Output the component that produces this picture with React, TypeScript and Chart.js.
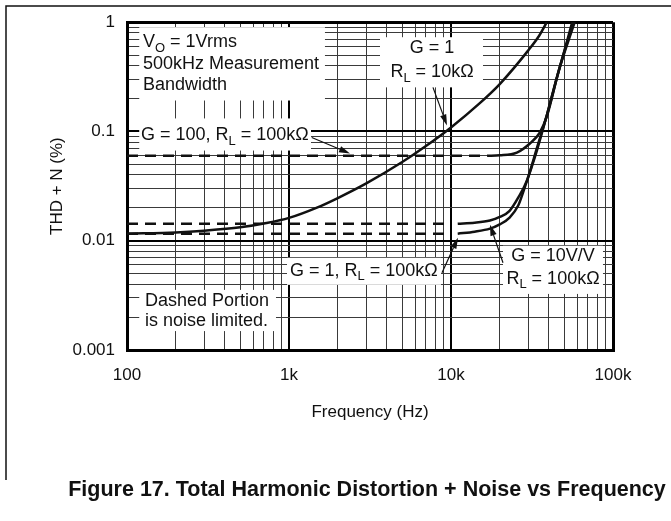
import React, { useEffect, useRef } from 'react';
import { Chart, registerables } from 'chart.js';

Chart.register(...registerables);

// ---------- axes ----------
const X_DECADES = [100, 1000, 10000, 100000];
const X_TICK_LABELS = ['100', '1k', '10k', '100k'];
const Y_DECADES = [0.001, 0.01, 0.1, 1];
const Y_TICK_LABELS = ['0.001', '0.01', '0.1', '1'];
const MINOR_STEPS = [2, 3, 4, 5, 6, 7, 8, 9];
const X_TITLE = 'Frequency (Hz)';
const Y_TITLE = 'THD + N (%)';
const FIG_TITLE = 'Figure 17. Total Harmonic Distortion + Noise vs Frequency';

// ---------- series ----------
// G = 1, RL = 10kΩ (solid)
const G1_10K_FREQ = [100, 200, 300, 500, 700, 1000, 1500, 2000, 3000, 5000, 7000, 10000, 15000, 20000, 30000, 35000, 39000];
const G1_10K_THD = [0.0116, 0.0119, 0.01236, 0.01327, 0.01439, 0.01618, 0.0202, 0.0246, 0.0335, 0.0525, 0.0735, 0.1089, 0.1807, 0.2716, 0.552, 0.7516, 1.0];

// G = 100, RL = 100kΩ
const G100_DASH_FREQ = [100, 16700];
const G100_DASH_THD = [0.06, 0.06];
const G100_FREQ = [16700, 20000, 25500, 30700, 35400, 39200, 46000, 57000];
const G100_THD = [0.06, 0.0605, 0.0641, 0.0776, 0.098, 0.14, 0.35, 1.0];

// G = 10V/V, RL = 100kΩ
const G10_DASH_FREQ = [100, 10000];
const G10_DASH_THD = [0.0143, 0.0143];
const G10_FREQ = [11000, 14000, 17400, 20000, 23000, 26000, 29400, 34000, 39000, 46000, 56000];
const G10_THD = [0.0143, 0.0146, 0.0153, 0.0165, 0.0188, 0.0248, 0.0355, 0.0714, 0.14, 0.346, 1.0];

// G = 1, RL = 100kΩ
const G1_100K_DASH_FREQ = [100, 10000];
const G1_100K_DASH_THD = [0.0116, 0.0116];
const G1_100K_FREQ = [11000, 14000, 17400, 20000, 23000, 26000, 28500, 34000, 39000, 46000, 58000];
const G1_100K_THD = [0.0116, 0.0121, 0.0129, 0.0141, 0.0163, 0.021, 0.0306, 0.068, 0.14, 0.35, 1.0];

// ---------- annotations (data coordinates) ----------
type Run = { t: string; sub?: boolean };
type Ann = {
  box: [number, number, number, number]; // f0, f1, vTop, vBottom
  align: 'left' | 'center';
  tx: number;
  lines: { y: number; runs: Run[] }[];
  arrow?: [number, number, number, number];
};

const ANNOTATIONS: Ann[] = [
  {
    box: [119, 1667, 0.9, 0.192], align: 'left', tx: 125.5,
    lines: [
      { y: 0.655, runs: [{ t: 'V' }, { t: 'O', sub: true }, { t: ' = 1Vrms' }] },
      { y: 0.412, runs: [{ t: '500kHz Measurement' }] },
      { y: 0.264, runs: [{ t: 'Bandwidth' }] },
    ],
  },
  {
    box: [3645, 15760, 0.729, 0.2533], align: 'center', tx: 7632,
    lines: [
      { y: 0.577, runs: [{ t: 'G = 1' }] },
      { y: 0.3477, runs: [{ t: 'R' }, { t: 'L', sub: true }, { t: ' = 10kΩ' }] },
    ],
    arrow: [7740, 0.2533, 9447, 0.1135],
  },
  {
    box: [119, 1367, 0.1316, 0.0669], align: 'left', tx: 122,
    lines: [{ y: 0.0919, runs: [{ t: 'G = 100, R' }, { t: 'L', sub: true }, { t: ' = 100kΩ' }] }],
    arrow: [1382, 0.0881, 2380, 0.0628],
  },
  {
    box: [972, 8677, 0.00698, 0.00395], align: 'left', tx: 1014,
    lines: [{ y: 0.0053, runs: [{ t: 'G = 1, R' }, { t: 'L', sub: true }, { t: ' = 100kΩ' }] }],
    arrow: [8800, 0.00509, 11045, 0.01065],
  },
  {
    box: [20940, 86700, 0.009, 0.00326], align: 'center', tx: 42620,
    lines: [
      { y: 0.00729, runs: [{ t: 'G = 10V/V' }] },
      { y: 0.00448, runs: [{ t: 'R' }, { t: 'L', sub: true }, { t: ' = 100kΩ' }] },
    ],
    arrow: [20940, 0.00628, 17400, 0.01402],
  },
  {
    box: [119, 831, 0.00355, 0.00149], align: 'left', tx: 129,
    lines: [
      { y: 0.00281, runs: [{ t: 'Dashed Portion' }] },
      { y: 0.00185, runs: [{ t: 'is noise limited.' }] },
    ],
  },
];

const FONT = '"Liberation Sans", Arial, Helvetica, sans-serif';
const TEXT_COLOR = '#111';

function buildTicks(decades: number[]): number[] {
  const out: number[] = [];
  for (let i = 0; i < decades.length - 1; i++) {
    out.push(decades[i]);
    MINOR_STEPS.forEach((m) => out.push(decades[i] * m));
  }
  out.push(decades[decades.length - 1]);
  return out;
}
const X_TICKS = buildTicks(X_DECADES);
const Y_TICKS = buildTicks(Y_DECADES);

const isDecade = (v: number) => {
  const l = Math.log10(v);
  return Math.abs(l - Math.round(l)) < 1e-6;
};
const labelFor = (v: number, decs: number[], labels: string[]) => {
  const i = decs.findIndex((d) => Math.abs(Math.log10(d) - Math.log10(v)) < 1e-6);
  return i >= 0 ? labels[i] : '';
};

const mkLine = (freq: number[], thd: number[], dashed: boolean) => ({
  data: freq.map((f, i) => ({ x: f, y: thd[i] })),
  borderColor: '#111',
  borderWidth: 2.5,
  borderDash: dashed ? [11, 7] : [],
  pointRadius: 0,
  fill: false,
  cubicInterpolationMode: 'monotone' as const,
  borderCapStyle: 'butt' as const,
});

function drawRuns(ctx: CanvasRenderingContext2D, runs: Run[], x: number, y: number, align: 'left' | 'center') {
  const main = `18px ${FONT}`;
  const sub = `13px ${FONT}`;
  let total = 0;
  runs.forEach((r) => {
    ctx.font = r.sub ? sub : main;
    total += ctx.measureText(r.t).width;
  });
  let cx = align === 'center' ? x - total / 2 : x;
  ctx.textAlign = 'left';
  ctx.textBaseline = 'middle';
  runs.forEach((r) => {
    ctx.font = r.sub ? sub : main;
    ctx.fillText(r.t, cx, r.sub ? y + 6 : y);
    cx += ctx.measureText(r.t).width;
  });
}

function drawArrow(ctx: CanvasRenderingContext2D, x0: number, y0: number, x1: number, y1: number) {
  const ang = Math.atan2(y1 - y0, x1 - x0);
  const len = 11;
  const hw = 3.2;
  const bx = x1 - len * Math.cos(ang);
  const by = y1 - len * Math.sin(ang);
  ctx.beginPath();
  ctx.moveTo(x0, y0);
  ctx.lineTo(bx, by);
  ctx.lineWidth = 1.2;
  ctx.strokeStyle = '#111';
  ctx.stroke();
  ctx.beginPath();
  ctx.moveTo(x1, y1);
  ctx.lineTo(bx + hw * Math.sin(ang), by - hw * Math.cos(ang));
  ctx.lineTo(bx - hw * Math.sin(ang), by + hw * Math.cos(ang));
  ctx.closePath();
  ctx.fillStyle = '#111';
  ctx.fill();
}

const annotationPlugin = {
  id: 'annots',
  beforeDatasetsDraw(chart: any) {
    const { ctx, scales } = chart;
    const xs = scales.x;
    const ys = scales.y;
    ctx.save();
    ctx.fillStyle = '#fff';
    ANNOTATIONS.forEach((a) => {
      const x0 = xs.getPixelForValue(a.box[0]);
      const x1 = xs.getPixelForValue(a.box[1]);
      const y0 = ys.getPixelForValue(a.box[2]);
      const y1 = ys.getPixelForValue(a.box[3]);
      ctx.fillRect(x0, y0, x1 - x0, y1 - y0);
    });
    ctx.restore();
  },
  afterDatasetsDraw(chart: any) {
    const { ctx, scales } = chart;
    const xs = scales.x;
    const ys = scales.y;
    ctx.save();
    ANNOTATIONS.forEach((a) => {
      ctx.fillStyle = TEXT_COLOR;
      const tx = xs.getPixelForValue(a.tx);
      a.lines.forEach((ln) => drawRuns(ctx, ln.runs, tx, ys.getPixelForValue(ln.y), a.align));
      if (a.arrow) {
        drawArrow(
          ctx,
          xs.getPixelForValue(a.arrow[0]), ys.getPixelForValue(a.arrow[1]),
          xs.getPixelForValue(a.arrow[2]), ys.getPixelForValue(a.arrow[3])
        );
      }
    });
    ctx.restore();
  },
  afterDraw(chart: any) {
    const { ctx } = chart;
    ctx.save();
    ctx.strokeStyle = '#111';
    ctx.lineWidth = 1.5;
    ctx.beginPath();
    ctx.moveTo(6, 480);
    ctx.lineTo(6, 6);
    ctx.lineTo(671, 6);
    ctx.stroke();
    ctx.fillStyle = TEXT_COLOR;
    ctx.font = `bold 21.5px ${FONT}`;
    ctx.textAlign = 'center';
    ctx.textBaseline = 'middle';
    ctx.fillText(FIG_TITLE, 367, 490);
    ctx.restore();
  },
};

function gridColor(ctx: any) {
  const v = ctx.tick ? ctx.tick.value : 0;
  return isDecade(v) ? '#000' : '#3a3a3a';
}
function gridWidthFor(first: number, last: number) {
  return (ctx: any) => {
    const v = ctx.tick ? ctx.tick.value : 0;
    if (Math.abs(v - first) / first < 1e-6 || Math.abs(v - last) / last < 1e-6) return 3;
    return isDecade(v) ? 2 : 1;
  };
}

export default function App() {
  const ref = useRef<HTMLCanvasElement | null>(null);
  useEffect(() => {
    if (!ref.current) return;
    const chart = new Chart(ref.current, {
      type: 'line',
      data: {
        datasets: [
          mkLine(G1_10K_FREQ, G1_10K_THD, false),
          mkLine(G100_DASH_FREQ, G100_DASH_THD, true),
          mkLine(G100_FREQ, G100_THD, false),
          mkLine(G10_DASH_FREQ, G10_DASH_THD, true),
          mkLine(G10_FREQ, G10_THD, false),
          mkLine(G1_100K_DASH_FREQ, G1_100K_DASH_THD, true),
          mkLine(G1_100K_FREQ, G1_100K_THD, false),
        ] as any,
      },
      options: {
        responsive: false,
        animation: false,
        devicePixelRatio: 1,
        layout: { padding: { left: 0, top: 22, right: 58, bottom: 0 } },
        plugins: {
          legend: { display: false },
          tooltip: { enabled: false },
          title: { display: false },
        },
        scales: {
          x: {
            type: 'logarithmic',
            position: 'bottom',
            min: X_DECADES[0],
            max: X_DECADES[X_DECADES.length - 1],
            afterBuildTicks: (s: any) => {
              s.ticks = X_TICKS.map((v) => ({ value: v, major: isDecade(v) }));
            },
            afterFit: (s: any) => {
              s.height = 171;
            },
            ticks: {
              autoSkip: false,
              maxRotation: 0,
              minRotation: 0,
              padding: 15,
              color: TEXT_COLOR,
              font: { family: FONT, size: 17 },
              callback: (v: any) => labelFor(Number(v), X_DECADES, X_TICK_LABELS),
            },
            grid: {
              drawTicks: false,
              color: gridColor,
              lineWidth: gridWidthFor(X_DECADES[0], X_DECADES[X_DECADES.length - 1]),
            },
            border: { display: true, width: 3, color: '#000' },
            title: {
              display: true,
              text: X_TITLE,
              color: TEXT_COLOR,
              font: { family: FONT, size: 17 },
              padding: { top: 0, bottom: 98 },
            },
          },
          y: {
            type: 'logarithmic',
            position: 'left',
            min: Y_DECADES[0],
            max: Y_DECADES[Y_DECADES.length - 1],
            afterBuildTicks: (s: any) => {
              s.ticks = Y_TICKS.map((v) => ({ value: v, major: isDecade(v) }));
            },
            afterFit: (s: any) => {
              s.width = 127;
            },
            ticks: {
              autoSkip: false,
              padding: 12,
              color: TEXT_COLOR,
              font: { family: FONT, size: 17 },
              callback: (v: any) => labelFor(Number(v), Y_DECADES, Y_TICK_LABELS),
            },
            grid: {
              drawTicks: false,
              color: gridColor,
              lineWidth: gridWidthFor(Y_DECADES[0], Y_DECADES[Y_DECADES.length - 1]),
            },
            border: { display: true, width: 3, color: '#000' },
            title: {
              display: true,
              text: Y_TITLE,
              color: TEXT_COLOR,
              font: { family: FONT, size: 17 },
              padding: { top: 47, bottom: 0 },
            },
          },
        },
      } as any,
      plugins: [annotationPlugin],
    });
    return () => chart.destroy();
  }, []);

  return (
    <div style={{ position: 'fixed', left: 0, top: 0, width: 671, height: 521, background: '#fff' }}>
      <canvas ref={ref} width={671} height={521} style={{ display: 'block', width: 671, height: 521 }} />
    </div>
  );
}
